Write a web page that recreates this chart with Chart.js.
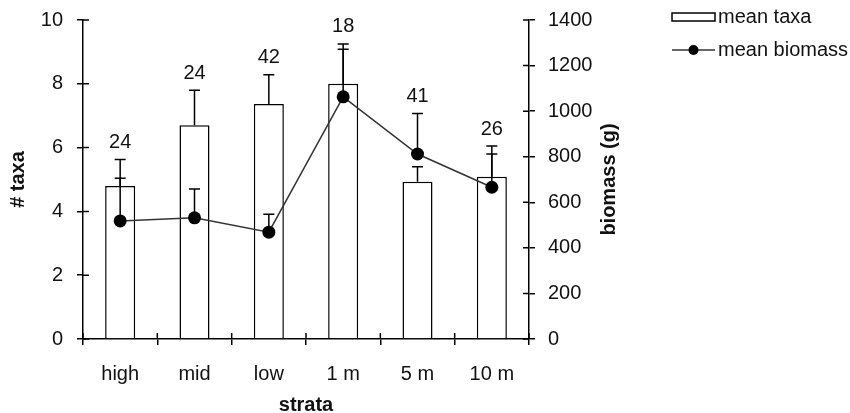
<!DOCTYPE html>
<html><head><meta charset="utf-8">
<script src="https://cdn.jsdelivr.net/npm/chart.js@4/dist/chart.umd.min.js"></script>
<style>html,body{margin:0;padding:0;background:#fff}#wrap{width:850px;height:413px}</style>
</head><body><div id="wrap"><canvas id="c" width="850" height="413"></canvas></div>
<script>
const categories = ['high', 'mid', 'low', '1 m', '5 m', '10 m'];
const meanTaxa = [4.8, 6.7, 7.37, 8.0, 4.93, 5.09];
const taxaErr = [0.83, 1.1, 0.91, 1.25, 0.47, 0.96];
const meanBiomass = [518, 532, 469, 1063, 812, 666];
const biomassErr = [187, 126, 79, 209, 178, 146];
const sampleSizes = ['24', '24', '42', '18', '41', '26'];
const taxaTicks = [0, 2, 4, 6, 8, 10];
const biomassTicks = [0, 200, 400, 600, 800, 1000, 1200, 1400];
const seriesNames = ['mean taxa', 'mean biomass'];
const axisTitles = {x: 'strata', y: '# taxa', y1: 'biomass (g)'};

const FONT = "'Liberation Sans', Arial, sans-serif";
const FS = 20;
const TXT = '#111';

const extras = {
  id: 'extras',
  afterDatasetsDraw(chart) {
    const ctx = chart.ctx;
    const ys = chart.scales.y, ys1 = chart.scales.y1;
    const barMeta = chart.getDatasetMeta(0), lineMeta = chart.getDatasetMeta(1);
    ctx.save();
    ctx.strokeStyle = '#000';
    ctx.lineWidth = 1.5;
    const cap = 5.5;
    for (let i = 0; i < categories.length; i++) {
      const bx = barMeta.data[i].x;
      const by = ys.getPixelForValue(meanTaxa[i]);
      const bc = ys.getPixelForValue(meanTaxa[i] + taxaErr[i]);
      ctx.beginPath();
      ctx.moveTo(bx, by); ctx.lineTo(bx, bc);
      ctx.moveTo(bx - cap, bc); ctx.lineTo(bx + cap, bc);
      ctx.stroke();
      const lx = lineMeta.data[i].x;
      const ly = ys1.getPixelForValue(meanBiomass[i]);
      const lc = ys1.getPixelForValue(meanBiomass[i] + biomassErr[i]);
      ctx.beginPath();
      ctx.moveTo(lx, ly); ctx.lineTo(lx, lc);
      ctx.moveTo(lx - cap, lc); ctx.lineTo(lx + cap, lc);
      ctx.stroke();
      ctx.fillStyle = TXT;
      ctx.font = FS + 'px ' + FONT;
      ctx.textAlign = 'center';
      ctx.textBaseline = 'middle';
      ctx.fillText(sampleSizes[i], bx, Math.min(bc, lc) - 17);
    }
    ctx.restore();
  },
  afterDraw(chart) {
    const ctx = chart.ctx;
    const a = chart.chartArea;
    const {x, y, y1} = chart.scales;
    ctx.save();
    ctx.strokeStyle = '#000';
    ctx.lineWidth = 1.5;
    ctx.beginPath();
    y.ticks.forEach(t => { const p = y.getPixelForValue(t.value); ctx.moveTo(a.left, p); ctx.lineTo(a.left + 6, p); });
    y1.ticks.forEach(t => { const p = y1.getPixelForValue(t.value); ctx.moveTo(a.right, p); ctx.lineTo(a.right - 6, p); });
    for (let i = 0; i <= categories.length; i++) {
      const p = a.left + (a.right - a.left) * i / categories.length;
      ctx.moveTo(p, a.bottom); ctx.lineTo(p, a.bottom - 6);
    }
    ctx.stroke();
    ctx.fillStyle = TXT;
    ctx.font = 'bold ' + FS + 'px ' + FONT;
    ctx.textAlign = 'center';
    ctx.textBaseline = 'middle';
    const midY = (a.top + a.bottom) / 2;
    ctx.fillText(axisTitles.x, (a.left + a.right) / 2, 405);
    ctx.save(); ctx.translate(18, midY); ctx.rotate(-Math.PI / 2); ctx.fillText(axisTitles.y, 0, 0); ctx.restore();
    ctx.save(); ctx.translate(609, midY); ctx.rotate(-Math.PI / 2); ctx.fillText(axisTitles.y1, 0, 0); ctx.restore();
    ctx.font = FS + 'px ' + FONT;
    ctx.textAlign = 'left';
    ctx.fillStyle = '#fff';
    ctx.fillRect(672, 13, 43, 8);
    ctx.strokeRect(672, 13, 43, 8);
    ctx.fillStyle = TXT;
    ctx.fillText(seriesNames[0], 718, 17);
    ctx.strokeStyle = '#333';
    ctx.beginPath(); ctx.moveTo(672, 50); ctx.lineTo(715, 50); ctx.stroke();
    ctx.fillStyle = '#000';
    ctx.beginPath(); ctx.arc(693.5, 50, 5, 0, Math.PI * 2); ctx.fill();
    ctx.fillStyle = TXT;
    ctx.fillText(seriesNames[1], 718, 50);
    ctx.restore();
  }
};

new Chart(document.getElementById('c'), {
  data: {
    labels: categories,
    datasets: [
      {type: 'bar', label: seriesNames[0], data: meanTaxa, yAxisID: 'y', order: 2,
       backgroundColor: '#fff', borderColor: '#000', borderWidth: 1.5,
       categoryPercentage: 1, barPercentage: 0.404},
      {type: 'line', label: seriesNames[1], data: meanBiomass, yAxisID: 'y1', order: 1,
       borderColor: '#333', borderWidth: 1.5, pointRadius: 6.5, pointHoverRadius: 6.5,
       pointBackgroundColor: '#000', pointBorderColor: '#000', pointBorderWidth: 0, tension: 0}
    ]
  },
  options: {
    responsive: false, animation: false, devicePixelRatio: 1,
    layout: {padding: {top: 20, left: 0, right: 0, bottom: 0}},
    plugins: {legend: {display: false}, tooltip: {enabled: false}},
    scales: {
      x: {
        type: 'category', offset: true,
        grid: {display: true, drawOnChartArea: false, offset: true, tickLength: 6, color: '#000', lineWidth: 1.5},
        border: {color: '#000', width: 1.5},
        ticks: {font: {family: FONT, size: FS}, color: TXT, padding: 17, maxRotation: 0},
        afterFit: s => { s.height = 74; s.paddingLeft = 0; s.paddingRight = 0; }
      },
      y: {
        position: 'left', min: 0, max: 10,
        afterBuildTicks: s => { s.ticks = taxaTicks.map(v => ({value: v})); },
        grid: {display: true, drawOnChartArea: false, tickLength: 6, color: '#000', lineWidth: 1.5},
        border: {color: '#000', width: 1.5},
        ticks: {font: {family: FONT, size: FS}, color: TXT, padding: 14, callback: v => String(v)},
        afterFit: s => { s.width = 83; s.paddingTop = 0; s.paddingBottom = 0; }
      },
      y1: {
        position: 'right', min: 0, max: 1400,
        afterBuildTicks: s => { s.ticks = biomassTicks.map(v => ({value: v})); },
        grid: {display: true, drawOnChartArea: false, tickLength: 6, color: '#000', lineWidth: 1.5},
        border: {color: '#000', width: 1.5},
        ticks: {font: {family: FONT, size: FS}, color: TXT, padding: 13, callback: v => String(v)},
        afterFit: s => { s.width = 321; s.paddingTop = 0; s.paddingBottom = 0; }
      }
    }
  },
  plugins: [extras]
});
</script></body></html>
